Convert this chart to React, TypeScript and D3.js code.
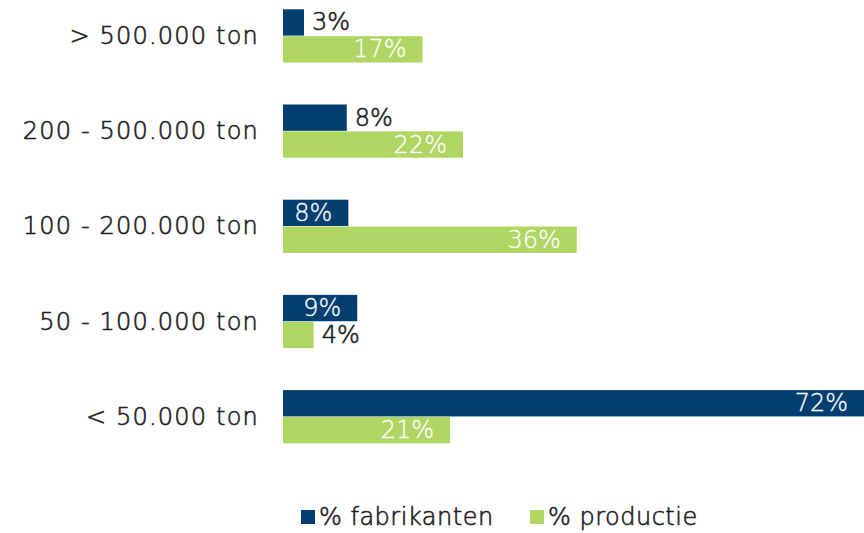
import * as d3 from "d3";

const categories = ["> 500.000 ton", "200 - 500.000 ton", "100 - 200.000 ton", "50 - 100.000 ton", "< 50.000 ton"];
const fabrikanten = [2.6, 7.9, 8.1, 9.2, 72];
const productie = [17.3, 22.3, 36.4, 3.8, 20.7];
const seriesNames = ["% fabrikanten", "% productie"];

const WIDTH = 864;
const HEIGHT = 533;
const FONT = "'DejaVu Sans', sans-serif";
const colors = ["#023f70", "#afd563"];
const textColor = "#1e1e1e";
const MIN_INSIDE = 65;

export default function App() {
    const x = d3.scaleLinear().domain([0, 72]).range([283, 864]);
    const y = d3
        .scaleBand<string>()
        .domain(categories)
        .range([-11.7, 464.3])
        .paddingInner(0.441)
        .paddingOuter(0.2205);
    const sub = d3.scaleBand<number>().domain([0, 1]).range([0, y.bandwidth()]).paddingInner(0.02);
    const series = [fabrikanten, productie];

    return (
        <svg
            width={WIDTH}
            height={HEIGHT}
            style={{ position: "absolute", left: 0, top: 0, background: "#fff" }}
            fontFamily={FONT}
            fontWeight={300}
            strokeWidth={0.6}
        >
            {categories.map((c) => (
                <text
                    key={c}
                    x={259}
                    y={(y(c) ?? 0) + y.bandwidth() / 2}
                    textAnchor="end"
                    dominantBaseline="central"
                    fontSize={24}
                    letterSpacing={1.2}
                    fill={textColor}
                    stroke={textColor}
                >
                    {c}
                </text>
            ))}
            {series.map((values, si) =>
                values.map((v, i) => {
                    const top = (y(categories[i]) ?? 0) + (sub(si) ?? 0);
                    const w = x(v) - x(0);
                    const inside = w >= MIN_INSIDE;
                    const cy = top + sub.bandwidth() / 2;
                    const c = inside ? "#fff" : textColor;
                    return (
                        <g key={`${si}-${i}`}>
                            <rect x={x(0)} y={top} width={w} height={sub.bandwidth()} fill={colors[si]} />
                            <text
                                x={inside ? x(v) - 16 : x(v) + 8}
                                y={cy}
                                textAnchor={inside ? "end" : "start"}
                                dominantBaseline="central"
                                fontSize={24}
                                fill={c}
                                stroke={c}
                                strokeWidth={inside ? 0.3 : 0.6}
                            >
                                {`${Math.round(v)}%`}
                            </text>
                        </g>
                    );
                })
            )}
            {seriesNames.map((name, si) => {
                const lx = si === 0 ? 301 : 530;
                return (
                    <g key={name} transform={`translate(${lx},510)`}>
                        <rect width={14} height={14} fill={colors[si]} />
                        <text
                            x={18}
                            y={7}
                            dominantBaseline="central"
                            fontSize={24}
                            letterSpacing={0.5}
                            fill={textColor}
                            stroke={textColor}
                        >
                            {name}
                        </text>
                    </g>
                );
            })}
        </svg>
    );
}
